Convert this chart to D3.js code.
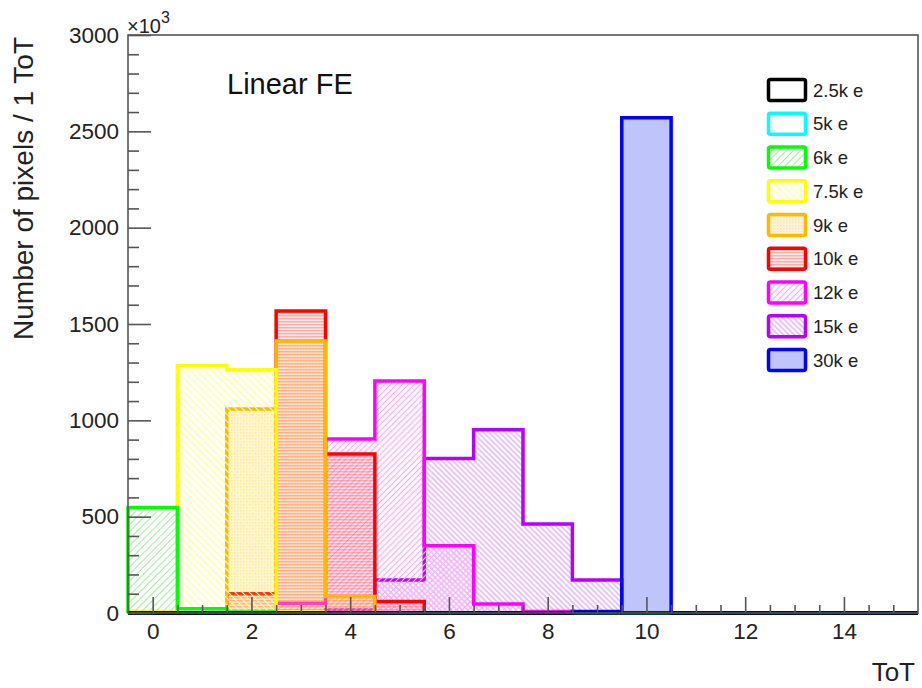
<!DOCTYPE html>
<html>
<head>
<meta charset="utf-8">
<script src="https://cdn.jsdelivr.net/npm/d3@7"></script>
<style>
  html, body { margin: 0; padding: 0; background: #fff; }
  svg { display: block; font-family: "Liberation Sans", Arial, Helvetica, sans-serif; }
</style>
</head>
<body>
<svg id="chart" width="922" height="688"></svg>
<script>
// ToT bins (width 1, centred on integers)
const tot = [0, 1, 2, 3, 4, 5, 6, 7, 8, 9, 10, 11, 12, 13, 14, 15];

// Pixel counts per ToT bin (in units of 10^3)
const q2_5k = [0, 0, 0, 0, 0, 0, 0, 0, 0, 0, 0, 0, 0, 0, 0, 0];
const q5k   = [0, 0, 0, 0, 0, 0, 0, 0, 0, 0, 0, 0, 0, 0, 0, 0];
const q6k   = [547, 22, 5, 0, 0, 0, 0, 0, 0, 0, 0, 0, 0, 0, 0, 0];
const q7_5k = [8, 1285, 1263, 5, 0, 0, 0, 0, 0, 0, 0, 0, 0, 0, 0, 0];
const q9k   = [0, 0, 1059, 1412, 85, 0, 0, 0, 0, 0, 0, 0, 0, 0, 0, 0];
const q10k  = [0, 0, 100, 1567, 825, 60, 0, 0, 0, 0, 0, 0, 0, 0, 0, 0];
const q12k  = [0, 0, 0, 50, 903, 1204, 349, 47, 8, 0, 0, 0, 0, 0, 0, 0];
const q15k  = [0, 0, 0, 0, 15, 171, 802, 951, 462, 171, 0, 0, 0, 0, 0, 0];
const q30k  = [0, 0, 0, 0, 0, 0, 0, 0, 0, 8, 2570, 0, 0, 0, 0, 0];

const seriesNames = ["2.5k e", "5k e", "6k e", "7.5k e", "9k e", "10k e", "12k e", "15k e", "30k e"];
const seriesValues = [q2_5k, q5k, q6k, q7_5k, q9k, q10k, q12k, q15k, q30k];
const seriesColors = ["#000000", "#00ffff", "#00ff00", "#ffff00", "#ffb800", "#ff0000", "#ff00ff", "#b400ff", "#0000ff"];
const seriesFills = ["none", "none", "url(#hatch6k)", "url(#hatch7k)", "url(#grid9k)", "url(#lines10k)", "url(#hatch12k)", "url(#hatch15k)", "rgba(20,40,235,0.27)"];
// order in which the histograms are painted (indices into the arrays above)
const drawOrder = [7, 6, 5, 4, 3, 2, 1, 8, 0];

const xTicks = [0, 2, 4, 6, 8, 10, 12, 14];
const yTicks = [0, 500, 1000, 1500, 2000, 2500, 3000];

const svg = d3.select("#chart");
const padL = 128, padR = 918, padT = 35, padB = 613;

const x = d3.scaleLinear().domain([-0.5, 15.5]).range([padL, padR]);
const y = d3.scaleLinear().domain([0, 3000]).range([padB, padT]);

// ---- fill patterns ----
const defs = svg.append("defs");
function hatch(id, color, angle, step, width) {
  const p = defs.append("pattern").attr("id", id)
    .attr("patternUnits", "userSpaceOnUse")
    .attr("width", step).attr("height", step)
    .attr("patternTransform", `rotate(${angle})`);
  p.append("line").attr("x1", step / 2).attr("x2", step / 2)
    .attr("y1", -1).attr("y2", step + 1)
    .attr("stroke", color).attr("stroke-width", width);
}
hatch("hatch6k", "#a6eea6", 45, 5, 1.1);
hatch("hatch7k", "#ffff94", -45, 5, 1.2);
hatch("hatch12k", "#ffa6ff", 45, 4.2, 1.2);
hatch("hatch15k", "#d996ff", -45, 3.8, 1.1);

const g9 = defs.append("pattern").attr("id", "grid9k")
  .attr("patternUnits", "userSpaceOnUse").attr("width", 3).attr("height", 3);
g9.append("rect").attr("width", 3).attr("height", 3).attr("fill", "rgba(255,200,80,0.22)");
g9.append("rect").attr("width", 1.5).attr("height", 1.5).attr("fill", "rgba(255,160,0,0.18)");

const l10 = defs.append("pattern").attr("id", "lines10k")
  .attr("patternUnits", "userSpaceOnUse").attr("width", 6).attr("height", 3);
l10.append("rect").attr("width", 6).attr("height", 3).attr("fill", "rgba(255,120,120,0.16)");
l10.append("rect").attr("width", 6).attr("height", 1.5).attr("fill", "rgba(255,70,70,0.36)");

// ---- histograms ----
function stepPoints(vals) {
  const pts = [[x(-0.5), y(0)]];
  vals.forEach((v, i) => {
    pts.push([x(tot[i] - 0.5), y(v)]);
    pts.push([x(tot[i] + 0.5), y(v)]);
  });
  pts.push([x(15.5), y(0)]);
  return pts;
}
const line = d3.line();
const hists = svg.append("g");
drawOrder.forEach(k => {
  const pts = stepPoints(seriesValues[k]);
  if (seriesFills[k] !== "none") {
    hists.append("path").attr("d", line(pts) + "Z")
      .attr("fill", seriesFills[k]).attr("stroke", "none");
  }
  hists.append("path").attr("d", line(pts))
    .attr("fill", "none").attr("stroke", seriesColors[k])
    .attr("stroke-width", 3.5).attr("stroke-linejoin", "miter");
});

// ---- frame and axes ----
const axisColor = "#555";
svg.append("rect").attr("x", padL).attr("y", padT)
  .attr("width", padR - padL).attr("height", padB - padT)
  .attr("fill", "none").attr("stroke", axisColor).attr("stroke-width", 1.6);

// y axis: major every 500, minor every 100, ticks point inwards
const yAxis = d3.axisLeft(y).tickValues(yTicks).tickSize(-23).tickPadding(9).tickFormat(d3.format("d"));
const ya = svg.append("g").attr("transform", `translate(${padL},0)`).call(yAxis);
ya.select(".domain").remove();
ya.selectAll(".tick line").attr("stroke", axisColor).attr("stroke-width", 1.6);
ya.selectAll(".tick text").attr("font-size", 22.5).attr("fill", "#222")
  .attr("font-family", "Liberation Sans, Arial, sans-serif");
const yMinor = d3.axisLeft(y).tickValues(d3.range(0, 3001, 100).filter(v => v % 500 !== 0)).tickSize(-11).tickFormat("");
const ym = svg.append("g").attr("transform", `translate(${padL},0)`).call(yMinor);
ym.select(".domain").remove();
ym.selectAll(".tick line").attr("stroke", axisColor).attr("stroke-width", 1.6);

// x axis: major every 2, minor every 0.5
const xAxis = d3.axisBottom(x).tickValues(xTicks).tickSize(-16).tickPadding(10).tickFormat(d3.format("d"));
const xa = svg.append("g").attr("transform", `translate(0,${padB})`).call(xAxis);
xa.select(".domain").remove();
xa.selectAll(".tick line").attr("stroke", axisColor).attr("stroke-width", 1.6);
xa.selectAll(".tick text").attr("font-size", 22.5).attr("fill", "#222")
  .attr("font-family", "Liberation Sans, Arial, sans-serif");
const xMinor = d3.axisBottom(x).tickValues(d3.range(0, 15.5, 0.5).filter(v => v % 2 !== 0)).tickSize(-8).tickFormat("");
const xm = svg.append("g").attr("transform", `translate(0,${padB})`).call(xMinor);
xm.select(".domain").remove();
xm.selectAll(".tick line").attr("stroke", axisColor).attr("stroke-width", 1.6);

// ×10^3 exponent
const ex = svg.append("text").attr("x", padL - 1).attr("y", 33)
  .attr("font-size", 20).attr("fill", "#222");
ex.append("tspan").text("×10");
ex.append("tspan").attr("dy", -10).attr("font-size", 16).text("3");

// axis titles
svg.append("text").attr("x", 915).attr("y", 681)
  .attr("text-anchor", "end").attr("font-size", 26).attr("fill", "#222").text("ToT");
svg.append("text").attr("transform", "translate(33,37) rotate(-90)")
  .attr("text-anchor", "end").attr("font-size", 28).attr("fill", "#222")
  .text("Number of pixels / 1 ToT");

// label
svg.append("text").attr("x", 227).attr("y", 94)
  .attr("font-size", 29).attr("fill", "#111").text("Linear FE");

// ---- legend ----
const leg = svg.append("g");
seriesNames.forEach((name, i) => {
  const cy = 90 + i * 33.75;
  leg.append("rect").attr("x", 768.5).attr("y", cy - 10.5)
    .attr("width", 37).attr("height", 21).attr("rx", 2)
    .attr("fill", seriesFills[i] === "none" ? "#fff" : seriesFills[i])
    .attr("stroke", seriesColors[i]).attr("stroke-width", 3.5);
  leg.append("text").attr("x", 813).attr("y", cy).attr("dy", "0.36em")
    .attr("font-size", 18.5).attr("fill", "#222").text(name);
});
</script>
</body>
</html>
